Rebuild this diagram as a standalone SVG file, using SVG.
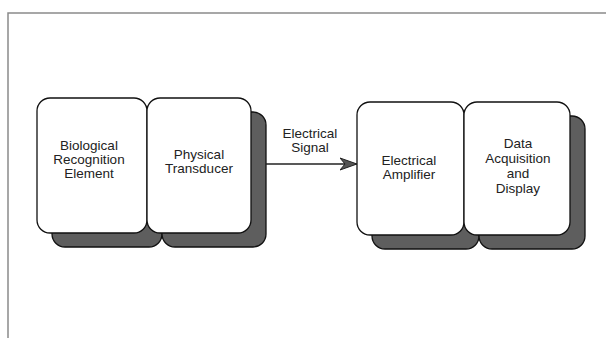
<svg xmlns="http://www.w3.org/2000/svg" width="606" height="338" viewBox="0 0 606 338">
<defs>
<style>
.frame{stroke:#8a8a8a;stroke-width:1.5;fill:none}
.shadow{fill:#5e5e5e;stroke:#111;stroke-width:1.3}
.box{fill:#fff;stroke:#111;stroke-width:1.3}
.lbl{font-family:"Liberation Sans",Arial,sans-serif;font-size:13.5px;fill:#222;text-anchor:middle}
.conn{stroke:#222;stroke-width:1.3;fill:none}
</style>
<marker id="arrow" markerWidth="18" markerHeight="14" refX="17" refY="7" orient="auto" markerUnits="userSpaceOnUse">
<path d="M0,1 L17,7 L0,13 L5,7 Z" fill="#555" stroke="#222" stroke-width="1"/>
</marker>
</defs>
<rect width="606" height="338" fill="#fff"/>
<g id="frame">
<path class="frame" d="M8,338 L8,13 L606,13"/>
</g>
<g id="node-biological">
<rect class="shadow" x="52" y="112" width="110" height="135" rx="13"/>
<rect class="box" x="37" y="98" width="110" height="135" rx="13"/>
<text class="lbl" x="89" y="150">Biological</text>
<text class="lbl" x="89" y="164">Recognition</text>
<text class="lbl" x="89" y="178">Element</text>
</g>
<g id="node-transducer">
<rect class="shadow" x="162" y="112" width="104" height="135" rx="13"/>
<rect class="box" x="147" y="98" width="104" height="135" rx="13"/>
<text class="lbl" x="199" y="159">Physical</text>
<text class="lbl" x="199" y="173">Transducer</text>
</g>
<g id="node-amplifier">
<rect class="shadow" x="372" y="116" width="107" height="133" rx="13"/>
<rect class="box" x="357" y="102" width="107" height="133" rx="13"/>
<text class="lbl" x="409" y="165">Electrical</text>
<text class="lbl" x="409" y="179">Amplifier</text>
</g>
<g id="node-display">
<rect class="shadow" x="479" y="116" width="106" height="133" rx="13"/>
<rect class="box" x="464" y="102" width="106" height="133" rx="13"/>
<text class="lbl" x="518" y="148">Data</text>
<text class="lbl" x="518" y="163">Acquisition</text>
<text class="lbl" x="518" y="178">and</text>
<text class="lbl" x="518" y="193">Display</text>
</g>
<g id="connectors">
<line class="conn" x1="266" y1="164" x2="357" y2="164" marker-end="url(#arrow)"/>
<text class="lbl" x="310" y="138">Electrical</text>
<text class="lbl" x="310" y="152">Signal</text>
</g>
</svg>
